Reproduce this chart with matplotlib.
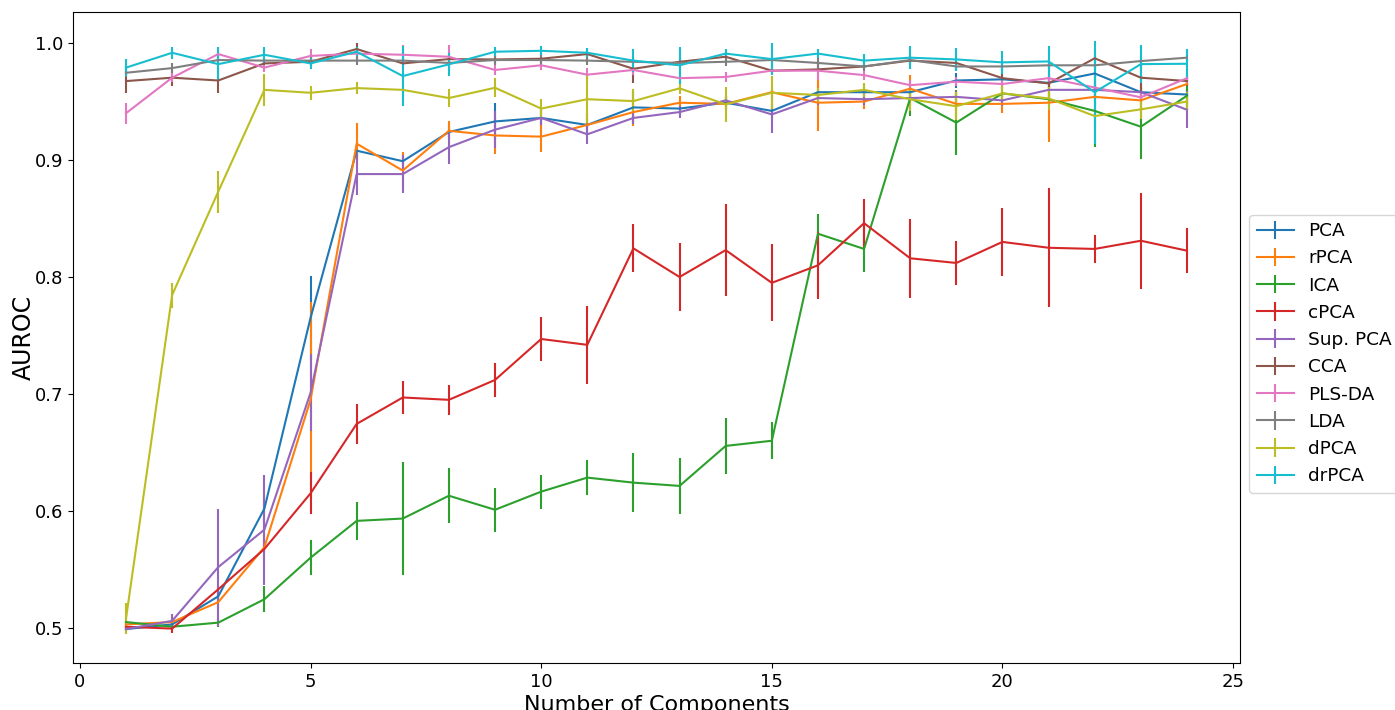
import numpy as np
import matplotlib
matplotlib.use("Agg")
import matplotlib.pyplot as plt

n_components = list(range(1, 25))

pca = [0.499, 0.503, 0.527, 0.602, 0.765, 0.908, 0.899, 0.924, 0.933, 0.936, 0.930, 0.945,
       0.944, 0.949, 0.942, 0.958, 0.958, 0.958, 0.968, 0.969, 0.966, 0.974, 0.958, 0.956]
pca_err = [0.002, 0.003, 0.005, 0.012, 0.036, 0.006, 0.004, 0.006, 0.016, 0.008, 0.006, 0.014,
           0.006, 0.006, 0.006, 0.006, 0.005, 0.004, 0.006, 0.005, 0.006, 0.006, 0.006, 0.005]

rpca = [0.503, 0.505, 0.522, 0.569, 0.695, 0.914, 0.891, 0.925, 0.921, 0.920, 0.930, 0.941,
        0.949, 0.948, 0.958, 0.949, 0.950, 0.961, 0.948, 0.948, 0.949, 0.954, 0.951, 0.965]
rpca_err = [0.003, 0.004, 0.006, 0.012, 0.084, 0.018, 0.016, 0.008, 0.016, 0.013, 0.010, 0.012,
            0.006, 0.006, 0.005, 0.024, 0.006, 0.012, 0.010, 0.008, 0.034, 0.006, 0.008, 0.005]

ica = [0.505, 0.501, 0.5045, 0.5245, 0.560, 0.5915, 0.5935, 0.613, 0.601, 0.6165, 0.6285, 0.6242,
       0.6214, 0.6556, 0.660, 0.837, 0.824, 0.953, 0.932, 0.957, 0.952, 0.942, 0.9285, 0.955]
ica_err = [0.003, 0.002, 0.004, 0.011, 0.015, 0.016, 0.048, 0.0235, 0.019, 0.0145, 0.015, 0.025,
           0.024, 0.024, 0.016, 0.017, 0.020, 0.015, 0.028, 0.010, 0.005, 0.031, 0.028, 0.010]

cpca = [0.501, 0.4994, 0.533, 0.5675, 0.615, 0.6744, 0.697, 0.695, 0.712, 0.747, 0.742, 0.8245,
        0.800, 0.823, 0.795, 0.810, 0.846, 0.816, 0.812, 0.830, 0.825, 0.824, 0.831, 0.8225]
cpca_err = [0.003, 0.004, 0.003, 0.003, 0.018, 0.017, 0.0145, 0.013, 0.0147, 0.0185, 0.0335, 0.0204,
            0.029, 0.039, 0.033, 0.0287, 0.021, 0.034, 0.0185, 0.0288, 0.051, 0.0118, 0.041, 0.0195]

sup_pca = [0.499, 0.506, 0.552, 0.584, 0.701, 0.888, 0.888, 0.911, 0.926, 0.936, 0.922, 0.936,
           0.941, 0.951, 0.939, 0.953, 0.952, 0.953, 0.954, 0.951, 0.960, 0.960, 0.958, 0.943]
sup_pca_err = [0.002, 0.006, 0.050, 0.047, 0.033, 0.018, 0.016, 0.014, 0.016, 0.006, 0.008, 0.005,
               0.005, 0.005, 0.016, 0.006, 0.005, 0.004, 0.005, 0.005, 0.006, 0.008, 0.007, 0.016]

cca = [0.9675, 0.9704, 0.968, 0.9826, 0.984, 0.9949, 0.9826, 0.9863, 0.986, 0.9866, 0.9906, 0.978,
       0.984, 0.9883, 0.9764, 0.9775, 0.980, 0.985, 0.983, 0.970, 0.9655, 0.987, 0.9704, 0.9675]
cca_err = [0.010, 0.007, 0.011, 0.004, 0.004, 0.005, 0.004, 0.004, 0.004, 0.004, 0.004, 0.012,
           0.004, 0.004, 0.004, 0.004, 0.004, 0.004, 0.004, 0.004, 0.004, 0.004, 0.012, 0.004]

pls_da = [0.940, 0.9704, 0.9906, 0.979, 0.989, 0.991, 0.990, 0.9883, 0.977, 0.981, 0.973, 0.977,
          0.970, 0.971, 0.9764, 0.9764, 0.9726, 0.964, 0.967, 0.965, 0.970, 0.962, 0.9536, 0.970]
pls_da_err = [0.009, 0.004, 0.006, 0.004, 0.006, 0.006, 0.008, 0.010, 0.004, 0.004, 0.006, 0.004,
              0.004, 0.004, 0.004, 0.008, 0.004, 0.004, 0.004, 0.004, 0.004, 0.004, 0.004, 0.004]

lda = [0.9746, 0.9786, 0.9855, 0.985, 0.985, 0.985, 0.985, 0.983, 0.9855, 0.9855, 0.985, 0.984,
       0.983, 0.984, 0.9855, 0.983, 0.980, 0.9855, 0.980, 0.980, 0.981, 0.981, 0.9846, 0.9875]
lda_err = [0.004, 0.004, 0.004, 0.004, 0.004, 0.004, 0.004, 0.004, 0.004, 0.004, 0.004, 0.004,
           0.004, 0.004, 0.004, 0.004, 0.004, 0.004, 0.004, 0.004, 0.004, 0.004, 0.004, 0.004]

dpca = [0.508, 0.7846, 0.873, 0.960, 0.9575, 0.9615, 0.960, 0.953, 0.9618, 0.944, 0.952, 0.9504,
        0.9613, 0.9476, 0.9575, 0.9556, 0.960, 0.952, 0.946, 0.957, 0.9527, 0.9376, 0.9433, 0.950]
dpca_err = [0.013, 0.0107, 0.018, 0.0137, 0.006, 0.005, 0.002, 0.008, 0.008, 0.008, 0.020, 0.010,
            0.005, 0.015, 0.014, 0.006, 0.006, 0.010, 0.012, 0.006, 0.010, 0.006, 0.008, 0.008]

drpca = [0.979, 0.9917, 0.982, 0.990, 0.9826, 0.9926, 0.9718, 0.9818, 0.9926, 0.9934, 0.9917, 0.985,
         0.981, 0.991, 0.9863, 0.991, 0.985, 0.9875, 0.986, 0.9835, 0.9843, 0.958, 0.982, 0.9823]
drpca_err = [0.007, 0.005, 0.0147, 0.007, 0.005, 0.004, 0.026, 0.010, 0.004, 0.004, 0.004, 0.010,
             0.016, 0.004, 0.014, 0.004, 0.006, 0.010, 0.010, 0.010, 0.013, 0.044, 0.016, 0.013]

methods = ["PCA", "rPCA", "ICA", "cPCA", "Sup. PCA", "CCA", "PLS-DA", "LDA", "dPCA", "drPCA"]
means = [pca, rpca, ica, cpca, sup_pca, cca, pls_da, lda, dpca, drpca]
errors = [pca_err, rpca_err, ica_err, cpca_err, sup_pca_err, cca_err, pls_da_err, lda_err,
          dpca_err, drpca_err]

fig = plt.figure(figsize=(13.95, 7.1), dpi=100)
ax = fig.add_axes([0.0523, 0.0662, 0.8366, 0.9168])

for name, m, e in zip(methods, means, errors):
    ax.errorbar(n_components, m, yerr=e, label=name)

ax.set_ylim(0.47, 1.0265)
ax.set_xticks([0, 5, 10, 15, 20, 25])
ax.set_yticks([0.5, 0.6, 0.7, 0.8, 0.9, 1.0])
ax.tick_params(labelsize=13)
ax.set_xlabel("Number of Components", fontsize=16, labelpad=3)
ax.set_ylabel("AUROC", fontsize=17, labelpad=-1)
ax.legend(loc="center left", bbox_to_anchor=(1.0, 0.475), fontsize=13.3)

fig.savefig("out.png", dpi=100)
